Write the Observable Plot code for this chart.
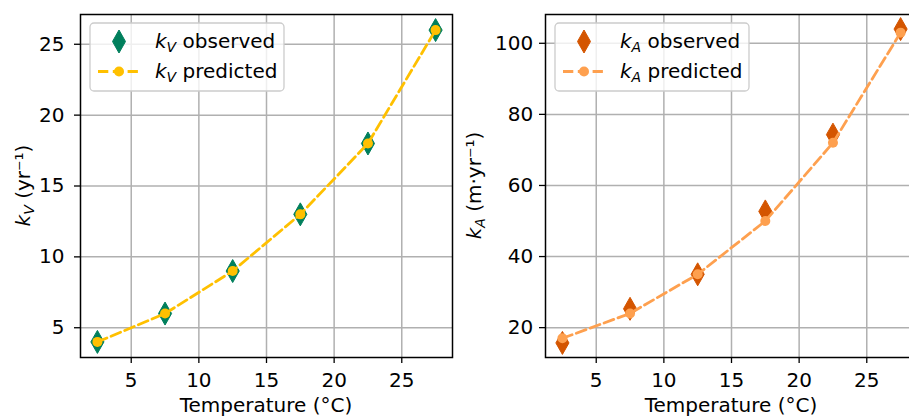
<!DOCTYPE html>
<html>
<head>
<meta charset="utf-8">
<script src="https://cdn.jsdelivr.net/npm/d3@7"></script>
<script src="https://cdn.jsdelivr.net/npm/@observablehq/plot@0.6"></script>
<style>
  html, body { margin: 0; padding: 0; background: white; }
  #fig { position: relative; width: 909px; height: 418px; overflow: hidden; background: white; }
  #fig svg { position: absolute; top: 0; max-width: none !important; }
</style>
</head>
<body>
<div id="fig"></div>
<script>
// ---- data ----
const temperatures = [2.5, 7.5, 12.5, 17.5, 22.5, 27.5];
const kvObserved  = [4, 6, 9, 13, 18, 26];
const kvPredicted = [4, 6, 9, 13, 18, 26];
const kaObserved  = [15.7, 25.3, 35, 52.7, 74.3, 104];
const kaPredicted = [17, 24, 35, 50, 72, 103];
const xTicks  = [5, 10, 15, 20, 25];
const kvTicks = [5, 10, 15, 20, 25];
const kaTicks = [20, 40, 60, 80, 100];

const FONT = "DejaVu Sans";
const FS = 20;
const thinDiamond = {
  draw(context, size) {
    const r = Math.sqrt(size / Math.PI);
    const w = r * 0.57;
    context.moveTo(0, -r);
    context.lineTo(w, 0);
    context.lineTo(0, r);
    context.lineTo(-w, 0);
    context.closePath();
  }
};

function panel({obs, pred, yDomain, yTicks, obsColor, predColor, marginLeft, marginRight, tickPadY}) {
  const o = temperatures.map((t, i) => ({t, v: obs[i]}));
  const p = temperatures.map((t, i) => ({t, v: pred[i]}));
  return Plot.plot({
    width: 460, height: 418,
    marginLeft, marginRight, marginTop: 14, marginBottom: 61,
    x: {domain: [1.25, 28.75]},
    y: {domain: yDomain},
    style: {fontFamily: FONT, fontSize: FS + "px", color: "black", background: "transparent", overflow: "visible"},
    marks: [
      Plot.gridX(xTicks, {stroke: "#b0b0b0", strokeOpacity: 1, strokeWidth: 1.5}),
      Plot.gridY(yTicks, {stroke: "#b0b0b0", strokeOpacity: 1, strokeWidth: 1.5}),
      Plot.dot(o, {x: "t", y: "v", symbol: thinDiamond, r: 11.5, fill: obsColor, stroke: obsColor, strokeWidth: 1}),
      Plot.line(p, {x: "t", y: "v", stroke: predColor, strokeWidth: 2.8, strokeDasharray: "10.3,4.5"}),
      Plot.dot(p, {x: "t", y: "v", r: 5, fill: predColor, stroke: "none"}),
      Plot.frame({stroke: "black", strokeWidth: 1.5}),
      Plot.axisX(xTicks, {tickSize: 6, tickPadding: 9, strokeWidth: 1.3, label: null, fill: "black"}),
      Plot.axisY(yTicks, {tickSize: 6, tickPadding: tickPadY, strokeWidth: 1.3, label: null, fill: "black"})
    ]
  });
}

function addText(sel, parts, attrs) {
  const t = sel.append("text").attr("font-family", FONT).attr("font-size", FS).attr("fill", "black");
  for (const [k, v] of Object.entries(attrs)) t.attr(k, v);
  for (const p of parts) {
    const s = t.append("tspan").text(p.text);
    if (p.italic) s.attr("font-style", "italic");
    if (p.sub) s.attr("font-size", FS * 0.7).attr("dy", 4);
    if (p.up) s.attr("dy", -4);
  }
  return t;
}

function decorate(svg, {left, sym, obsColor, predColor}) {
  const g = d3.select(svg);
  const fx0 = left;
  const lg = g.append("g");
  lg.append("rect").attr("x", fx0 + 10).attr("y", 23).attr("width", 194).attr("height", 68)
    .attr("rx", 4).attr("fill", "white").attr("fill-opacity", 0.8)
    .attr("stroke", "#cccccc").attr("stroke-width", 1.3);
  const cx = fx0 + 39;
  lg.append("path").attr("d", `M${cx},${41.5 - 11.5}L${cx + 6.5},41.5L${cx},${41.5 + 11.5}L${cx - 6.5},41.5Z`)
    .attr("fill", obsColor).attr("stroke", obsColor);
  lg.append("line").attr("x1", fx0 + 18).attr("x2", fx0 + 58).attr("y1", 71.5).attr("y2", 71.5)
    .attr("stroke", predColor).attr("stroke-width", 2.8).attr("stroke-dasharray", "10.3,4.5");
  lg.append("circle").attr("cx", cx).attr("cy", 71.5).attr("r", 5).attr("fill", predColor);
  addText(lg, [{text: "k", italic: true}, {text: sym, italic: true, sub: true}, {text: " observed", up: true}],
    {x: fx0 + 75, y: 47.5, "text-anchor": "start"});
  addText(lg, [{text: "k", italic: true}, {text: sym, italic: true, sub: true}, {text: " predicted", up: true}],
    {x: fx0 + 75, y: 77.5, "text-anchor": "start"});
}

const fig = document.getElementById("fig");

const left = panel({obs: kvObserved, pred: kvPredicted, yDomain: [2.9, 27.1], yTicks: kvTicks,
  obsColor: "#007f5c", predColor: "#ffc000", marginLeft: 80, marginRight: 8, tickPadY: 10});
left.style.left = "0px";
fig.appendChild(left);
decorate(left, {left: 80, sym: "V", obsColor: "#007f5c", predColor: "#ffc000"});
addText(d3.select(left), [{text: "Temperature (°C)"}], {x: 266, y: 412, "text-anchor": "middle"});
addText(d3.select(left), [{text: "k", italic: true}, {text: "V", italic: true, sub: true}, {text: " (yr⁻¹)", up: true}],
  {transform: "translate(30,185.5) rotate(-90)", "text-anchor": "middle"});

const right = panel({obs: kaObserved, pred: kaPredicted, yDomain: [11.6, 108.1], yTicks: kaTicks,
  obsColor: "#d45500", predColor: "#fea04f", marginLeft: 85, marginRight: 3, tickPadY: 6.3});
right.style.left = "460px";
fig.appendChild(right);
decorate(right, {left: 85, sym: "A", obsColor: "#d45500", predColor: "#fea04f"});
addText(d3.select(right), [{text: "Temperature (°C)"}], {x: 85 + 186, y: 412, "text-anchor": "middle"});
addText(d3.select(right), [{text: "k", italic: true}, {text: "A", italic: true, sub: true}, {text: " (m·yr⁻¹)", up: true}],
  {transform: "translate(20.5,185.5) rotate(-90)", "text-anchor": "middle"});
</script>
</body>
</html>
